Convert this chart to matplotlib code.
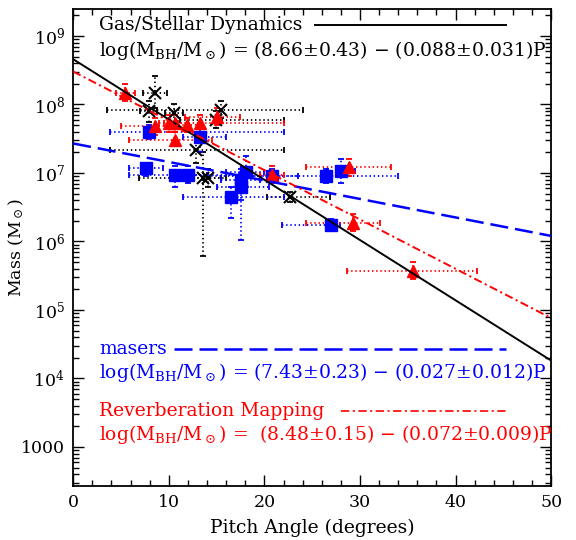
import matplotlib
matplotlib.use("Agg")
import matplotlib.pyplot as plt
import numpy as np
from matplotlib.ticker import FixedLocator, FuncFormatter, MultipleLocator

plt.rcParams['font.family'] = 'serif'
plt.rcParams['font.serif'] = ['DejaVu Serif']
plt.rcParams['mathtext.fontset'] = 'dejavuserif'
plt.rcParams['lines.scale_dashes'] = False

## Gas/Stellar dynamics (black crosses): pitch angle, log mass, x range, log-mass range
gas_p    = [8.6, 7.9, 10.5, 15.5, 14.9, 12.9, 13.6, 14.1, 22.7]
gas_m    = [8.16, 7.90, 7.87, 7.92, 7.77, 7.34, 6.93, 6.92, 6.65]
gas_plo  = [7.3, 7.0, 9.6, 3.5, 11.2, 3.9, 6.9, 12.5, 20.3]
gas_phi  = [9.8, 8.8, 11.5, 24.0, 22.0, 22.0, 15.5, 16.0, 26.9]
gas_mlo  = [7.95, 7.75, 7.75, 7.80, 7.65, 7.15, 5.79, 6.80, 6.58]
gas_mhi  = [8.42, 8.05, 8.00, 8.05, 7.90, 7.55, 7.30, 7.05, 6.72]

## masers (blue squares)
mas_p    = [7.9, 13.3, 7.6, 10.7, 12.0, 18.1, 17.6, 17.6, 16.5, 20.8, 26.4, 28.0, 27.0]
mas_m    = [7.60, 7.53, 7.07, 6.97, 6.97, 7.02, 6.90, 6.80, 6.65, 6.95, 6.95, 7.03, 6.24]
mas_plo  = [3.9, 11.5, 5.8, 5.8, 10.5, 16.0, 15.5, 15.0, 11.5, 18.5, 14.0, 26.5, 21.8]
mas_phi  = [22.0, 16.0, 9.4, 18.0, 14.0, 20.0, 19.5, 20.5, 22.0, 23.5, 34.0, 29.5, 27.9]
mas_mlo  = [7.50, 7.30, 6.95, 6.80, 6.85, 6.80, 6.02, 6.60, 6.34, 6.85, 6.85, 6.85, 6.15]
mas_mhi  = [7.70, 7.70, 7.15, 7.10, 7.10, 7.25, 7.05, 7.00, 6.80, 7.05, 7.05, 7.20, 6.33]

## reverberation mapping (red triangles)
rev_p    = [5.4, 8.6, 10.0, 10.7, 10.7, 11.9, 13.3, 15.0, 20.8, 28.8, 29.3, 35.5]
rev_m    = [8.17, 7.68, 7.73, 7.73, 7.48, 7.70, 7.73, 7.82, 6.97, 7.09, 6.27, 5.57]
rev_plo  = [4.5, 5.0, 9.0, 9.5, 5.8, 10.5, 10.8, 11.7, 19.5, 24.4, 24.4, 28.6]
rev_phi  = [6.5, 10.0, 11.0, 12.0, 14.5, 13.5, 22.0, 17.4, 22.0, 33.2, 32.1, 42.2]
rev_mlo  = [8.05, 7.55, 7.60, 7.60, 7.40, 7.60, 7.60, 7.70, 6.85, 6.95, 6.15, 5.45]
rev_mhi  = [8.30, 7.80, 7.85, 7.85, 7.60, 7.80, 7.85, 7.95, 7.10, 7.20, 6.40, 5.70]

## fit lines log(M) = a - b P
fit_a = {'gas': 8.66, 'mas': 7.43, 'rev': 8.48}
fit_b = {'gas': 0.088, 'mas': 0.027, 'rev': 0.072}

ytick_vals = [1e3, 1e4, 1e5, 1e6, 1e7, 1e8, 1e9]
ytick_labs = ['1000', r'$10^4$', r'$10^5$', r'$10^6$', r'$10^7$', r'$10^8$', r'$10^9$']


def errpoints(ax, p, m, plo, phi, mlo, mhi, color, marker, ms, mew=1.0):
    p = np.array(p); m = 10 ** np.array(m)
    xerr = [p - np.array(plo), np.array(phi) - p]
    yerr = [m - 10 ** np.array(mlo), 10 ** np.array(mhi) - m]
    eb = ax.errorbar(p, m, xerr=xerr, yerr=yerr, fmt='none', ecolor=color,
                     elinewidth=1.3, capsize=2, capthick=1.3)
    for c in eb[2]:
        c.set_linestyle((0, (1, 2)))
    ax.plot(p, m, ls='none', marker=marker, color=color, ms=ms, mew=mew, zorder=3)


fig = plt.figure(figsize=(5.76, 5.4), dpi=100)
ax = fig.add_axes([0.127, 0.1, 0.83, 0.883])

errpoints(ax, gas_p, gas_m, gas_plo, gas_phi, gas_mlo, gas_mhi, 'black', 'x', 8.5, mew=1.5)
errpoints(ax, mas_p, mas_m, mas_plo, mas_phi, mas_mlo, mas_mhi, 'blue', 's', 8)
errpoints(ax, rev_p, rev_m, rev_plo, rev_phi, rev_mlo, rev_mhi, 'red', '^', 8.5)

pp = np.array([0, 50])
ax.plot(pp, 10 ** (fit_a['gas'] - fit_b['gas'] * pp), color='black', lw=1.4, zorder=4)
ax.plot(pp, 10 ** (fit_a['mas'] - fit_b['mas'] * pp), color='blue', lw=1.8,
        dashes=(13, 5), zorder=4)
ax.plot(pp, 10 ** (fit_a['rev'] - fit_b['rev'] * pp), color='red', lw=1.4,
        dashes=(6, 2.5, 1.5, 2.5), zorder=4)

ax.set_yscale('log')
ax.set_xlim(0, 50)
ax.set_ylim(10 ** 2.43, 10 ** 9.39)
ax.yaxis.set_major_locator(FixedLocator(ytick_vals))
ax.yaxis.set_major_formatter(FuncFormatter(lambda v, pos: ytick_labs[ytick_vals.index(v)] if v in ytick_vals else ''))
ax.xaxis.set_major_locator(MultipleLocator(10))
ax.xaxis.set_minor_locator(MultipleLocator(2))
ax.tick_params(which='both', direction='in', top=True, right=True, labelsize=12.5)
ax.tick_params(which='major', length=8, width=1, pad=6)
ax.tick_params(which='minor', length=4.5, width=1)
for s in ax.spines.values():
    s.set_linewidth(1.3)

ax.set_xlabel('Pitch Angle (degrees)', fontsize=13.5, labelpad=5)
ax.set_ylabel(r'Mass (M$_\odot$)', fontsize=12.5, va='center')
ax.yaxis.set_label_coords(-0.118, 0.5)

## legend-style labels
tx = 0.055
fs = 13.5
ax.text(tx, 0.966, 'Gas/Stellar Dynamics', color='black', fontsize=fs, transform=ax.transAxes, va='center')
ax.plot([0.505, 0.905], [0.966, 0.966], color='black', lw=1.4, transform=ax.transAxes)
ax.text(tx, 0.914, r'log(M$_{\rm BH}$/M$_\odot$) = (8.66$\pm$0.43) $-$ (0.088$\pm$0.031)P',
        color='black', fontsize=fs, transform=ax.transAxes, va='center')

ax.text(tx, 0.287, 'masers', color='blue', fontsize=fs, transform=ax.transAxes, va='center')
ax.plot([0.21, 0.905], [0.287, 0.287], color='blue', lw=1.8, dashes=(13, 5), transform=ax.transAxes)
ax.text(tx, 0.237, r'log(M$_{\rm BH}$/M$_\odot$) = (7.43$\pm$0.23) $-$ (0.027$\pm$0.012)P',
        color='blue', fontsize=fs, transform=ax.transAxes, va='center')

ax.text(tx, 0.157, 'Reverberation Mapping', color='red', fontsize=fs, transform=ax.transAxes, va='center')
ax.plot([0.56, 0.905], [0.157, 0.157], color='red', lw=1.2, dashes=(6, 2.5, 1.5, 2.5), transform=ax.transAxes)
ax.text(tx, 0.107, r'log(M$_{\rm BH}$/M$_\odot$) =  (8.48$\pm$0.15) $-$ (0.072$\pm$0.009)P',
        color='red', fontsize=fs, transform=ax.transAxes, va='center')

fig.savefig('out.png', dpi=100)
